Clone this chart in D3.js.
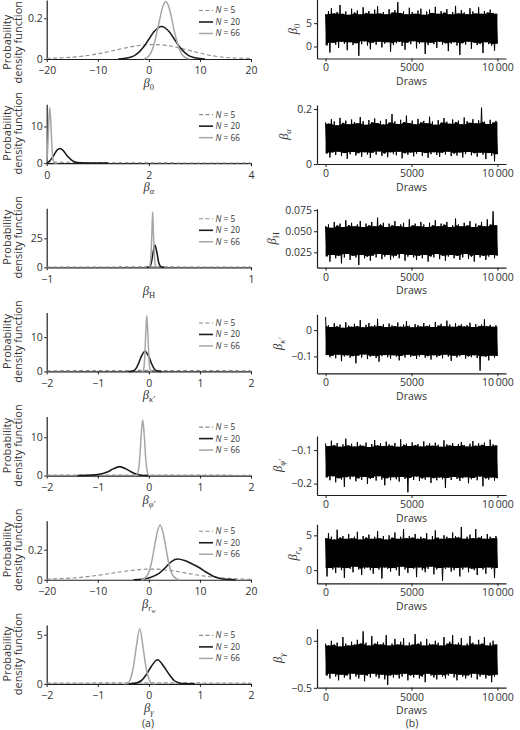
<!DOCTYPE html>
<html>
<head>
<meta charset="utf-8">
<script src="https://cdn.jsdelivr.net/npm/d3@7"></script>
<style>
  body { margin: 0; background: #fff; }
  svg { display: block; }
</style>
</head>
<body>
<svg id="chart"></svg>
<script>
// ---- parameter names (beta + subscript) ----
const paramSubs = ["0", "α", "H", "κ′", "φ′", "r", "γ"];
const paramSubSubs = ["", "", "", "", "", "w", ""];

// ---- density panels (a) ----
const densityXDomains = [[-20, 20], [0, 4], [-1, 1], [-2, 2], [-2, 2], [-20, 20], [-2, 2]];
const densityXTicks = [[-20, -10, 0, 10, 20], [0, 2, 4], [-1, 1], [-2, -1, 0, 1, 2], [-2, -1, 0, 1, 2], [-20, -10, 0, 10, 20], [-2, -1, 0, 1, 2]];
const densityYMax = [0.29, 16.1, 50.9, 17.2, 15.4, 0.393, 6.0];
const densityYTicks = [[0, 0.2], [0, 10], [0, 25], [0, 10], [0, 10], [0, 0.2], [0, 5]];
const sampleSizes = ["5", "20", "66"];

// curves: [x, density]
const b0N5 = [[-20,0.003],[-17,0.006],[-14,0.011],[-11,0.021],[-8,0.036],[-5,0.052],[-3,0.062],[-1,0.069],[1,0.071],[3,0.068],[5,0.060],[7,0.048],[9,0.035],[11,0.023],[13,0.014],[15,0.008],[17,0.005],[20,0.003]];
const b0N20 = [[-6,0],[-5,0.002],[-3,0.014],[-1,0.06],[0,0.097],[1,0.134],[2.5,0.16],[4,0.134],[5,0.097],[6,0.06],[8,0.014],[10,0.002],[11,0]];
const b0N66 = [[-1,0],[0,0.015],[1,0.07],[2,0.18],[2.7,0.255],[3.3,0.283],[4,0.25],[5,0.135],[6,0.045],[7,0.009],[8,0]];

const aN5 = [[0,0.35],[0.5,0.22],[1,0.14],[2,0.08],[3,0.05],[4,0.04]];
const aN20 = [[0,0.15],[0.05,0.5],[0.1,1.3],[0.15,2.4],[0.2,3.5],[0.26,4.0],[0.32,3.5],[0.4,2.0],[0.5,0.7],[0.6,0.15],[0.8,0.02],[1.2,0]];
const aN66 = [[0,0.3],[0.02,4],[0.04,11],[0.06,15.2],[0.08,11.5],[0.1,5],[0.12,1.3],[0.15,0.1],[0.2,0]];

const hN5 = [[-1,0.25],[-0.5,0.3],[0,0.35],[0.5,0.3],[1,0.25]];
const hN20 = [[-0.02,0],[0,0.2],[0.02,2.5],[0.04,12],[0.06,19.3],[0.08,12],[0.1,3],[0.12,0.4],[0.15,0]];
const hN66 = [[0,0],[0.01,1.5],[0.02,9],[0.03,30],[0.037,48],[0.045,30],[0.055,9],[0.065,1.2],[0.08,0]];

const kN5 = [[-2,0.2],[-1,0.28],[0,0.3],[1,0.28],[2,0.2]];
const kN20 = [[-0.4,0],[-0.35,0.03],[-0.3,0.18],[-0.25,0.9],[-0.2,2.4],[-0.15,4.3],[-0.075,5.9],[0,4.3],[0.05,2.4],[0.1,0.9],[0.15,0.18],[0.2,0.03],[0.25,0]];
const kN66 = [[-0.14,0],[-0.12,0.05],[-0.1,0.8],[-0.08,4.3],[-0.06,11.3],[-0.04,16.3],[-0.02,11.3],[0,4.3],[0.02,0.8],[0.04,0.05],[0.06,0]];

const pN5 = [[-2,0.12],[-1,0.16],[0,0.16],[1,0.13],[2,0.1]];
const pN20 = [[-1.4,0],[-1.2,0.05],[-1.05,0.18],[-0.9,0.55],[-0.8,1.0],[-0.7,1.75],[-0.57,2.35],[-0.45,1.75],[-0.35,1.0],[-0.25,0.4],[-0.15,0.1],[0,0]];
const pN66 = [[-0.28,0],[-0.25,0.05],[-0.22,0.5],[-0.18,4.2],[-0.15,10.5],[-0.12,14.6],[-0.09,10.5],[-0.06,4.2],[-0.02,0.5],[0.01,0]];

const rN5 = [[-20,0.004],[-17,0.008],[-14,0.014],[-11,0.025],[-8,0.04],[-5,0.055],[-3,0.064],[-1,0.07],[1,0.071],[3,0.067],[5,0.058],[7,0.046],[9,0.034],[11,0.024],[13,0.016],[15,0.01],[17,0.006],[20,0.003]];
const rN20 = [[-3,0],[-2,0.001],[0,0.012],[2,0.042],[3.5,0.09],[4.5,0.123],[5.6,0.138],[7,0.128],[8.5,0.105],[10,0.078],[11,0.055],[12,0.035],[13,0.018],[14,0.008],[15,0.003],[17,0]];
const rN66 = [[-1.5,0],[-1,0.005],[0,0.05],[0.5,0.11],[1,0.2],[1.6,0.31],[2.2,0.364],[2.8,0.31],[3.4,0.2],[4,0.095],[4.6,0.034],[5.5,0.005],[6,0]];

const gN5 = [[-2,0.08],[-1,0.1],[0,0.11],[1,0.1],[2,0.08]];
const gN20 = [[-0.4,0],[-0.3,0.03],[-0.15,0.32],[-0.05,0.95],[0.05,1.8],[0.17,2.45],[0.29,1.8],[0.4,0.95],[0.5,0.32],[0.6,0.1],[0.7,0.03],[0.9,0]];
const gN66 = [[-0.48,0],[-0.42,0.05],[-0.36,0.5],[-0.3,1.8],[-0.25,3.6],[-0.18,5.6],[-0.11,3.6],[-0.06,1.8],[0,0.5],[0.06,0.05],[0.12,0]];

// ---- trace panels (b): upper / lower extremes of the draws, 60 evenly spaced bins ----
const traceXTicks = [0, 5000, 10000];
const traceXTickLabels = ["0", "5000", "10\u2009000"];
const traceYTicks = [[0, 5], [0, 0.2], [0.025, 0.05, 0.075], [-0.1, 0], [-0.2, -0.1], [0, 5], [-0.5, 0]];
const traceTickFormats = ["~g", "~g", ".3f", "~g", "~g", "~g", "~g"];

const b0Hi = [6.9,7.6,8.2,7.1,7.4,8.9,7.0,7.5,6.8,8.1,7.3,7.7,6.9,8.4,7.2,7.6,7.0,7.9,8.6,7.1,7.4,6.9,8.0,7.3,7.8,9.5,7.2,7.5,6.9,8.3,7.4,7.0,7.7,8.1,6.8,7.5,7.9,7.2,8.5,7.0,7.6,7.3,8.0,6.9,7.4,8.7,7.1,7.8,7.3,6.9,8.2,7.5,7.1,8.4,7.0,7.6,7.3,7.9,7.2,7.0];
const b0Lo = [0.2,-1.3,0.8,0.4,-0.3,1.0,0.6,-0.8,0.9,0.3,0.7,-2.0,0.5,1.1,0.2,-0.6,0.8,0.4,1.0,-0.2,0.6,0.9,-1.1,0.3,0.7,1.0,0.1,-0.7,0.8,0.5,1.1,-0.4,0.6,0.9,-1.6,0.3,0.8,0.5,-0.3,1.0,0.4,0.7,-1.0,0.6,0.9,0.2,-1.8,0.7,0.4,1.0,-0.5,0.8,0.3,0.6,-1.4,0.9,0.5,0.2,-0.9,0.6];

const aHi = [0.152,0.147,0.163,0.155,0.141,0.168,0.150,0.158,0.145,0.162,0.153,0.148,0.171,0.156,0.143,0.160,0.152,0.166,0.149,0.157,0.144,0.163,0.151,0.182,0.155,0.146,0.161,0.153,0.176,0.149,0.158,0.145,0.164,0.152,0.157,0.148,0.172,0.155,0.143,0.160,0.151,0.167,0.154,0.147,0.162,0.153,0.158,0.145,0.169,0.156,0.150,0.163,0.148,0.159,0.205,0.154,0.146,0.161,0.152,0.157];
const aLo = [0.038,0.024,0.042,0.033,0.045,0.029,0.040,0.019,0.036,0.044,0.031,0.039,0.027,0.043,0.035,0.022,0.041,0.034,0.046,0.030,0.038,0.025,0.043,0.036,0.032,0.045,0.021,0.039,0.034,0.042,0.028,0.037,0.044,0.030,0.040,0.023,0.036,0.043,0.033,0.026,0.041,0.035,0.045,0.029,0.038,0.031,0.042,0.024,0.037,0.044,0.032,0.039,0.027,0.041,0.034,0.018,0.040,0.030,0.010,0.036];

const hHi = [0.056,0.058,0.054,0.061,0.057,0.059,0.055,0.063,0.057,0.060,0.056,0.058,0.062,0.055,0.059,0.057,0.061,0.056,0.066,0.058,0.060,0.055,0.059,0.057,0.062,0.056,0.058,0.060,0.055,0.064,0.057,0.059,0.056,0.061,0.058,0.055,0.060,0.057,0.063,0.056,0.059,0.058,0.061,0.055,0.057,0.065,0.058,0.056,0.060,0.057,0.062,0.055,0.059,0.057,0.061,0.056,0.064,0.058,0.0735,0.057];
const hLo = [0.020,0.014,0.022,0.018,0.021,0.012,0.019,0.023,0.016,0.021,0.019,0.010,0.022,0.018,0.020,0.015,0.021,0.019,0.023,0.017,0.020,0.022,0.016,0.019,0.021,0.018,0.023,0.015,0.020,0.022,0.019,0.016,0.021,0.018,0.022,0.014,0.020,0.019,0.023,0.017,0.021,0.015,0.020,0.022,0.018,0.021,0.016,0.019,0.023,0.017,0.020,0.014,0.022,0.019,0.021,0.016,0.020,0.022,0.018,0.021];

const kHi = [0.050,0.018,0.012,0.026,0.015,0.021,0.009,0.030,0.017,0.013,0.024,0.016,0.038,0.011,0.020,0.027,0.014,0.019,0.043,0.016,0.022,0.012,0.025,0.018,0.015,0.029,0.013,0.021,0.034,0.017,0.011,0.023,0.019,0.014,0.027,0.016,0.020,0.012,0.031,0.018,0.024,0.015,0.036,0.021,0.013,0.026,0.017,0.022,0.014,0.019,0.028,0.012,0.023,0.016,0.021,0.041,0.015,0.020,0.013,0.018];
const kLo = [-0.095,-0.103,-0.098,-0.107,-0.094,-0.118,-0.100,-0.096,-0.105,-0.099,-0.126,-0.097,-0.104,-0.093,-0.110,-0.101,-0.097,-0.106,-0.120,-0.099,-0.095,-0.103,-0.108,-0.096,-0.101,-0.115,-0.098,-0.104,-0.094,-0.102,-0.097,-0.109,-0.100,-0.095,-0.105,-0.099,-0.112,-0.096,-0.103,-0.098,-0.107,-0.094,-0.101,-0.117,-0.097,-0.104,-0.099,-0.095,-0.108,-0.100,-0.103,-0.096,-0.106,-0.154,-0.099,-0.102,-0.115,-0.097,-0.104,-0.098];

const pHi = [-0.080,-0.088,-0.072,-0.085,-0.079,-0.090,-0.083,-0.066,-0.086,-0.081,-0.089,-0.076,-0.084,-0.087,-0.078,-0.091,-0.082,-0.070,-0.086,-0.080,-0.088,-0.075,-0.083,-0.087,-0.079,-0.090,-0.068,-0.084,-0.081,-0.088,-0.077,-0.085,-0.082,-0.089,-0.074,-0.086,-0.080,-0.087,-0.078,-0.084,-0.090,-0.071,-0.083,-0.086,-0.079,-0.088,-0.082,-0.076,-0.085,-0.089,-0.081,-0.073,-0.087,-0.080,-0.084,-0.078,-0.088,-0.069,-0.083,-0.086];
const pLo = [-0.182,-0.190,-0.178,-0.196,-0.184,-0.188,-0.210,-0.181,-0.187,-0.179,-0.193,-0.185,-0.189,-0.180,-0.201,-0.186,-0.183,-0.191,-0.178,-0.188,-0.205,-0.184,-0.190,-0.181,-0.187,-0.194,-0.180,-0.186,-0.226,-0.183,-0.189,-0.179,-0.192,-0.185,-0.188,-0.181,-0.198,-0.184,-0.190,-0.182,-0.187,-0.213,-0.183,-0.189,-0.180,-0.186,-0.192,-0.184,-0.181,-0.199,-0.187,-0.183,-0.190,-0.179,-0.208,-0.185,-0.188,-0.182,-0.191,-0.184];

const rHi = [4.6,5.3,4.8,4.4,5.8,4.7,4.9,4.5,5.2,4.6,4.8,5.5,4.4,4.9,4.7,5.1,4.5,4.8,5.6,4.6,4.9,4.4,5.0,4.7,5.4,4.5,4.8,5.9,4.6,4.9,4.7,5.2,4.5,4.8,4.6,5.3,4.4,4.9,5.7,4.7,4.5,5.0,4.8,4.6,5.4,4.9,4.7,6.2,4.5,4.8,5.1,4.6,5.9,4.7,4.9,4.5,5.2,4.8,4.6,4.9];
const rLo = [-0.9,0.3,0.1,-0.4,0.4,0.0,-1.1,0.3,0.2,-0.3,0.5,0.1,-0.7,0.2,0.4,0.0,-0.5,0.3,0.1,-1.2,0.4,0.2,-0.2,0.3,0.0,-0.8,0.5,0.1,-0.4,0.3,0.2,-1.0,0.4,0.0,-0.3,0.2,0.5,-0.6,0.1,0.3,-1.5,0.2,0.4,-0.2,0.0,0.3,-0.9,0.1,0.4,-0.3,0.2,0.0,-0.7,0.3,0.1,-0.5,0.4,0.2,-1.1,0.3];

const gHi = [-0.03,-0.05,0.00,-0.04,-0.02,-0.06,0.04,-0.03,-0.05,-0.01,-0.04,0.01,-0.03,0.10,-0.02,-0.05,0.05,-0.03,-0.01,-0.04,-0.02,0.06,-0.05,-0.03,0.02,-0.04,-0.01,0.03,-0.05,-0.02,-0.04,0.07,-0.03,-0.01,-0.05,0.02,-0.03,-0.04,0.00,-0.02,-0.05,0.04,-0.03,-0.01,0.06,-0.04,-0.02,0.03,-0.05,-0.03,0.05,-0.02,-0.04,0.01,-0.03,0.04,-0.05,-0.02,0.00,-0.04];
const gLo = [-0.37,-0.40,-0.35,-0.38,-0.42,-0.36,-0.39,-0.37,-0.41,-0.35,-0.38,-0.40,-0.36,-0.43,-0.37,-0.39,-0.35,-0.38,-0.40,-0.36,-0.41,-0.47,-0.37,-0.39,-0.36,-0.40,-0.38,-0.35,-0.42,-0.37,-0.39,-0.36,-0.40,-0.38,-0.44,-0.35,-0.37,-0.39,-0.41,-0.36,-0.38,-0.40,-0.37,-0.35,-0.39,-0.42,-0.36,-0.38,-0.40,-0.37,-0.39,-0.35,-0.41,-0.38,-0.36,-0.40,-0.37,-0.44,-0.38,-0.36];

const densityCurves = [
  [b0N5, b0N20, b0N66], [aN5, aN20, aN66], [hN5, hN20, hN66], [kN5, kN20, kN66],
  [pN5, pN20, pN66], [rN5, rN20, rN66], [gN5, gN20, gN66],
];
const traceBands = [[b0Lo, b0Hi], [aLo, aHi], [hLo, hHi], [kLo, kHi], [pLo, pHi], [rLo, rHi], [gLo, gHi]];

// ---- layout ----
const W = 520, H = 730;
const SANS = '"Open Sans", "DejaVu Sans", sans-serif';
const SERIF = '"Liberation Serif", "DejaVu Serif", serif';
const INK = "#1e1e1e";
const TXT = "#333";
const plotH = 59;
const leftRange = [46.7, 251];
const leftBottom = d3.range(7).map((i) => 59 + i * 104.15);
const rightRange = [317, 506];
const rightBottom = [58.5, 164, 267.7, 373.3, 495, 583.3, 687.7];

// line style per sample size: N = 5, 20, 66
const curveStyle = [
  { stroke: "#8c8c8c", width: 1.1, dash: "4,2.5" },
  { stroke: "#1c1c1c", width: 1.6, dash: null },
  { stroke: "#a6a6a6", width: 1.5, dash: null },
];

const svg = d3.select("#chart").attr("width", W).attr("height", H);

function styleAxis(a, fontSize) {
  a.select(".domain").attr("stroke", INK).attr("stroke-width", 1.2);
  a.selectAll(".tick line").attr("stroke", INK);
  a.selectAll(".tick text")
    .attr("fill", TXT)
    .attr("font-size", fontSize)
    .attr("font-family", SANS);
}

// beta label with subscript(s)
function betaLabel(sel, i) {
  sel.attr("font-family", SERIF).attr("fill", TXT);
  sel.append("tspan").attr("font-style", "italic").attr("font-size", 12.5).text("β");
  sel.append("tspan")
    .attr("font-size", 8.5)
    .attr("dy", 3)
    .attr("font-style", paramSubs[i] === "0" || paramSubs[i] === "H" ? "normal" : "italic")
    .text(paramSubs[i]);
  if (paramSubSubs[i]) {
    sel.append("tspan").attr("font-size", 6).attr("font-style", "italic").attr("dy", 2).text(paramSubSubs[i]);
  }
}

// ---- (a) density panels ----
densityCurves.forEach((curves, i) => {
  const b = leftBottom[i];
  const x = d3.scaleLinear().domain(densityXDomains[i]).range(leftRange);
  const y = d3.scaleLinear().domain([0, densityYMax[i]]).range([b, b - plotH]);
  const g = svg.append("g");

  g.append("g")
    .attr("transform", `translate(0,${b})`)
    .call(d3.axisBottom(x).tickValues(densityXTicks[i]).tickFormat(d3.format("~g"))
      .tickSize(3).tickSizeOuter(0).tickPadding(5))
    .call((a) => styleAxis(a, 10.5));

  g.append("g")
    .attr("transform", `translate(${leftRange[0]},0)`)
    .call(d3.axisLeft(y).tickValues(densityYTicks[i]).tickFormat(d3.format("~g"))
      .tickSize(2.5).tickSizeOuter(0).tickPadding(1.5))
    .call((a) => styleAxis(a, 10.5));

  const line = d3.line()
    .x((d) => x(d[0]))
    .y((d) => y(d[1]))
    .curve(d3.curveMonotoneX);

  curves.forEach((pts, k) => {
    const st = curveStyle[k];
    g.append("path")
      .attr("d", line(pts))
      .attr("fill", "none")
      .attr("stroke", st.stroke)
      .attr("stroke-width", st.width)
      .attr("stroke-dasharray", st.dash);
  });

  // legend
  const legendRows = [b - 48.5, b - 37, b - 25.5];
  sampleSizes.forEach((n, k) => {
    const st = curveStyle[k];
    const ly = legendRows[k];
    g.append("line")
      .attr("x1", 199).attr("x2", 213)
      .attr("y1", ly).attr("y2", ly)
      .attr("stroke", st.stroke)
      .attr("stroke-width", st.width)
      .attr("stroke-dasharray", st.dash);
    const t = g.append("text")
      .attr("x", 215.5).attr("y", ly).attr("dy", "0.35em")
      .attr("font-family", SANS).attr("font-size", 8.3).attr("fill", TXT);
    t.append("tspan").attr("font-style", "italic").text("N");
    t.append("tspan").text(` = ${n}`);
  });

  // y title (two lines), kept inside the page for the top row
  const titleG = g.append("g");
  [["Probability", 7.5], ["density function", 18.5]].forEach(([s, lx]) => {
    titleG.append("text")
      .attr("transform", `translate(${lx},0) rotate(-90)`)
      .attr("text-anchor", "middle")
      .attr("dy", "0.35em")
      .attr("font-family", SANS)
      .attr("font-size", 11)
      .attr("fill", TXT)
      .text(s);
  });
  const half = titleG.node().getBBox().height / 2;
  titleG.attr("transform", `translate(0,${Math.max(b - 30, half + 1)})`);

  // x title
  g.append("text")
    .attr("x", (leftRange[0] + leftRange[1]) / 2)
    .attr("y", b + 28)
    .attr("text-anchor", "middle")
    .call((t) => betaLabel(t, i));
});

// ---- (b) trace panels ----
traceBands.forEach(([lo, hi], i) => {
  const b = rightBottom[i];
  const n = hi.length;
  const x = d3.scaleLinear().domain([-500, 10500]).range(rightRange);
  const [mn, mx] = d3.extent(lo.concat(hi));
  const pad = (mx - mn) * 0.05;
  const y = d3.scaleLinear().domain([mn - pad, mx + pad]).range([b, b - plotH]);
  const g = svg.append("g");
  const xAt = (j) => x((j * 10000) / (n - 1));

  // dense core: where neighbouring bins overlap the chain is solid black
  const coreHi = hi.map((h, j) => d3.min(hi.slice(Math.max(0, j - 1), j + 2)));
  const coreLo = lo.map((l, j) => d3.max(lo.slice(Math.max(0, j - 1), j + 2)));
  g.append("path")
    .attr("d", d3.area().x((d, j) => xAt(j)).y0((d, j) => y(coreLo[j])).y1((d, j) => y(coreHi[j]))(hi))
    .attr("fill", "#000");

  // the chain itself swings between the bin extremes: hi0, lo0, hi1, lo1, ...
  const path = d3.merge(hi.map((h, j) => [h, lo[j]]));
  const m = path.length;
  const trace = d3.line()
    .x((d, j) => x((j * 10000) / (m - 1)))
    .y((d) => y(d));

  g.append("path")
    .attr("d", trace(path))
    .attr("fill", "none")
    .attr("stroke", "#000")
    .attr("stroke-width", 1)
    .attr("stroke-linejoin", "miter")
    .attr("stroke-miterlimit", 2);

  g.append("g")
    .attr("transform", `translate(0,${b})`)
    .call(d3.axisBottom(x).tickValues(traceXTicks)
      .tickFormat((d, k) => traceXTickLabels[k])
      .tickSize(3).tickSizeOuter(0).tickPadding(2.5))
    .call((a) => styleAxis(a, 10.5));

  const yAxis = g.append("g")
    .attr("transform", `translate(${rightRange[0]},0)`)
    .call(d3.axisLeft(y).tickValues(traceYTicks[i]).tickFormat(d3.format(traceTickFormats[i]))
      .tickSize(3).tickSizeOuter(0).tickPadding(2))
    .call((a) => styleAxis(a, 10.5));

  let minX = rightRange[0];
  yAxis.selectAll(".tick text").each(function () {
    const bb = this.getBBox();
    const ctm = this.getCTM();
    minX = Math.min(minX, bb.x + ctm.e);
  });

  g.append("text")
    .attr("transform", `translate(${minX - 9},${b - plotH / 2}) rotate(-90)`)
    .attr("text-anchor", "middle")
    .call((t) => betaLabel(t, i));

  g.append("text")
    .attr("x", (x(0) + x(10000)) / 2)
    .attr("y", b + 26.5)
    .attr("text-anchor", "middle")
    .attr("font-family", SANS)
    .attr("font-size", 10.5)
    .attr("fill", TXT)
    .text("Draws");
});

// panel captions
[["(a)", 148], ["(b)", 412]].forEach(([s, cx]) => {
  svg.append("text")
    .attr("x", cx).attr("y", 727)
    .attr("text-anchor", "middle")
    .attr("font-family", SANS)
    .attr("font-size", 10.5)
    .attr("fill", TXT)
    .text(s);
});
</script>
</body>
</html>
